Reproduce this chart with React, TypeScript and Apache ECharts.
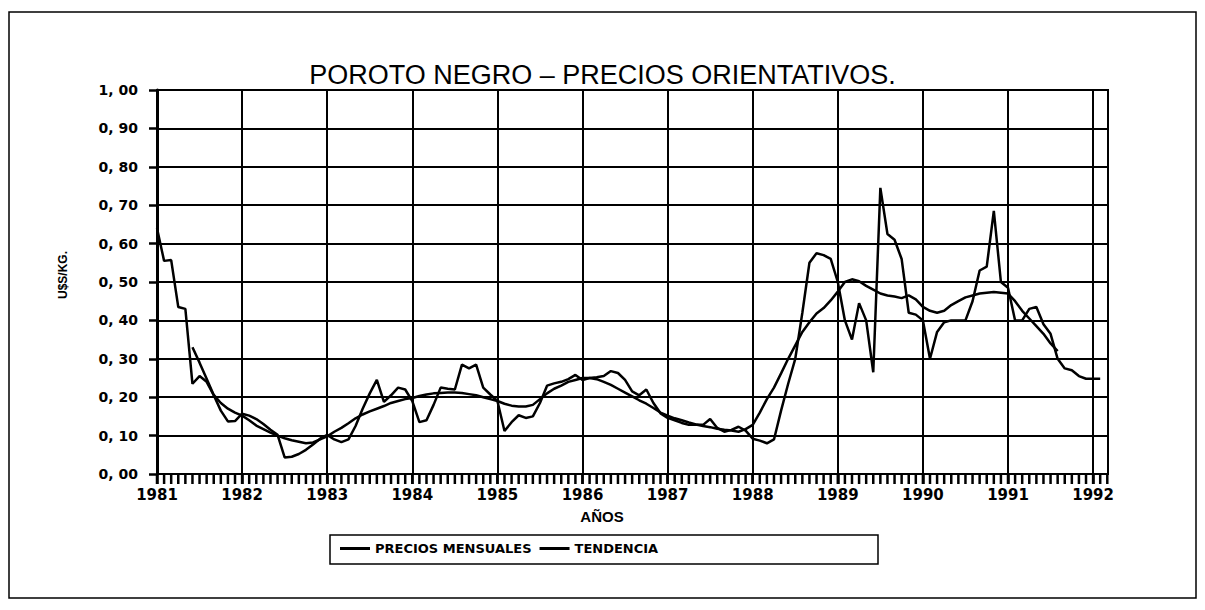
import React, { useEffect, useRef } from "react";
import * as echarts from "echarts";

// Year tick labels (one per January, month index 0, 12, 24 ...)
const anios = ["1981", "1982", "1983", "1984", "1985", "1986", "1987", "1988", "1989", "1990", "1991", "1992"];
const yTicks = [0, 0.1, 0.2, 0.3, 0.4, 0.5, 0.6, 0.7, 0.8, 0.9, 1.0];
// Monthly tick marks along the time axis (month index 0 = Jan 1981)
const marcasMes = Array.from({ length: 135 }, (_, i) => i);

// Monthly prices, US$/kg, January 1981 onward (one value per month)
const preciosMensuales = [
  // 1981
  0.64, 0.555, 0.557, 0.435, 0.43, 0.235, 0.255, 0.24, 0.205, 0.165, 0.137, 0.138,
  // 1982
  0.157, 0.152, 0.143, 0.13, 0.115, 0.102, 0.043, 0.045, 0.052, 0.063, 0.077, 0.092,
  // 1983
  0.102, 0.09, 0.083, 0.09, 0.125, 0.17, 0.21, 0.245, 0.188, 0.205, 0.225, 0.22,
  // 1984
  0.19, 0.135, 0.14, 0.18, 0.225, 0.222, 0.22, 0.285, 0.275, 0.285, 0.225, 0.207,
  // 1985
  0.19, 0.112, 0.135, 0.153, 0.146, 0.15, 0.185, 0.23, 0.236, 0.24, 0.247, 0.258,
  // 1986
  0.245, 0.25, 0.252, 0.255, 0.268, 0.263, 0.245, 0.215, 0.205, 0.22, 0.185, 0.158,
  // 1987
  0.146, 0.14, 0.133, 0.128, 0.128, 0.128, 0.143, 0.12, 0.11, 0.115, 0.123, 0.113,
  // 1988
  0.092, 0.087, 0.08, 0.09, 0.165, 0.235, 0.3, 0.42, 0.55, 0.575, 0.57, 0.56,
  // 1989
  0.5, 0.4, 0.35, 0.445, 0.4, 0.265, 0.745, 0.625, 0.61, 0.56, 0.42, 0.415,
  // 1990
  0.4, 0.3, 0.37, 0.395, 0.4, 0.4, 0.4, 0.45, 0.53, 0.54, 0.685, 0.5,
  // 1991
  0.485, 0.4, 0.4, 0.43, 0.435, 0.39, 0.365, 0.3, 0.275, 0.27, 0.255, 0.248,
  // 1992
  0.248, 0.248,
];

// Trend (moving average), starts at month index 5 (June 1981)
const tendenciaInicio = 5;
const tendencia = [
  // 1981 (Jun-Dec)
  0.33, 0.29, 0.248, 0.206, 0.185, 0.17, 0.16,
  // 1982
  0.152, 0.14, 0.126, 0.117, 0.108, 0.1, 0.093, 0.088, 0.084, 0.08, 0.082, 0.09,
  // 1983
  0.098, 0.11, 0.12, 0.132, 0.145, 0.155, 0.163, 0.17, 0.177, 0.185, 0.19, 0.195,
  // 1984
  0.198, 0.203, 0.207, 0.21, 0.211, 0.212, 0.212, 0.211, 0.208, 0.205, 0.2, 0.195,
  // 1985
  0.19, 0.183, 0.178, 0.176, 0.176, 0.18, 0.195, 0.21, 0.222, 0.23, 0.24, 0.245,
  // 1986
  0.25, 0.25, 0.247, 0.24, 0.232, 0.222, 0.212, 0.202, 0.192, 0.183, 0.172, 0.16,
  // 1987
  0.152, 0.145, 0.14, 0.134, 0.129, 0.125, 0.122, 0.118, 0.115, 0.113, 0.11, 0.117,
  // 1988
  0.128, 0.16, 0.195, 0.225, 0.262, 0.3, 0.335, 0.37, 0.395, 0.418, 0.432, 0.452,
  // 1989
  0.475, 0.5, 0.507, 0.502, 0.49, 0.48, 0.47, 0.465, 0.462, 0.458, 0.465, 0.455,
  // 1990
  0.435, 0.425, 0.42, 0.425, 0.44, 0.45, 0.46, 0.465, 0.47, 0.472, 0.474, 0.472,
  // 1991 (Jan-Aug)
  0.47, 0.45, 0.425, 0.405, 0.385, 0.365, 0.34, 0.32,
];

const X_MAX = 134.1;

export default function App() {
  const ref = useRef<HTMLDivElement>(null);

  useEffect(() => {
    if (!ref.current) return;
    const chart = echarts.init(ref.current, null, { renderer: "svg" });
    const labelFont = "DejaVu Sans";

    chart.setOption({
      animation: false,
      backgroundColor: "#ffffff",
      title: {
        text: "POROTO NEGRO – PRECIOS ORIENTATIVOS.",
        left: "center",
        top: 56,
        textStyle: { fontFamily: "Liberation Sans", fontSize: 27, fontWeight: "normal", color: "#000" },
      },
      grid: {
        left: 157,
        top: 90,
        right: 1205 - 1108,
        bottom: 610 - 474,
        show: true,
        borderColor: "#000",
        borderWidth: 2,
        backgroundColor: "transparent",
      },
      legend: {
        data: ["PRECIOS MENSUALES", "TENDENCIA"],
        left: 335,
        top: 537,
        icon: "rect",
        itemWidth: 30,
        itemHeight: 3,
        itemGap: 8,
        textStyle: { fontFamily: labelFont, fontWeight: "bold", fontSize: 13, color: "#000" },
      },
      xAxis: {
        type: "value",
        min: 0,
        max: X_MAX,
        interval: 12,
        axisLine: { show: true, onZero: false, lineStyle: { color: "#000", width: 2 } },
        axisTick: { show: true, length: 10, lineStyle: { color: "#000", width: 2.5 } },
        axisLabel: {
          margin: 13,
          fontFamily: labelFont,
          fontWeight: "bold",
          fontSize: 15,
          color: "#000",
          showMaxLabel: false,
          formatter: (v: number) => {
            const r = Math.round(v);
            return Math.abs(v - r) < 1e-6 && r % 12 === 0 ? anios[r / 12] ?? "" : "";
          },
        },
        splitLine: { show: true, lineStyle: { color: "#000", width: 2 } },
      },
      yAxis: {
        type: "value",
        min: yTicks[0],
        max: yTicks[yTicks.length - 1],
        interval: 0.1,
        axisLine: { show: true, lineStyle: { color: "#000", width: 3 } },
        axisTick: { show: true, length: 8, lineStyle: { color: "#000", width: 2.5 } },
        axisLabel: {
          margin: 19,
          fontFamily: labelFont,
          fontWeight: "bold",
          fontSize: 14,
          color: "#000",
          formatter: (v: number) => v.toFixed(2).replace(".", ", "),
        },
        splitLine: { show: true, lineStyle: { color: "#000", width: 2 } },
      },
      graphic: [
        {
          type: "rect",
          shape: { x: 9, y: 12, width: 1187, height: 586 },
          style: { fill: "none", stroke: "#000", lineWidth: 1.5 },
          silent: true,
        },
        {
          type: "rect",
          shape: { x: 330, y: 535, width: 548, height: 29 },
          style: { fill: "none", stroke: "#000", lineWidth: 1.5 },
          silent: true,
        },
        {
          type: "text",
          x: 602,
          y: 516,
          style: {
            text: "AÑOS",
            fontFamily: "Liberation Sans",
            fontWeight: "bold",
            fontSize: 15,
            fill: "#000",
            textAlign: "center",
            textVerticalAlign: "middle",
          },
        },
        {
          type: "text",
          x: 63,
          y: 275,
          rotation: Math.PI / 2,
          style: {
            text: "U$S/KG.",
            fontFamily: "Liberation Sans",
            fontWeight: "bold",
            fontSize: 12,
            fill: "#000",
            textAlign: "center",
            textVerticalAlign: "middle",
          },
        },
      ],
      series: [
        {
          name: "PRECIOS MENSUALES",
          type: "line",
          symbol: "none",
          data: preciosMensuales.map((v, i) => [i, v]),
          lineStyle: { color: "#000", width: 2.5 },
          itemStyle: { color: "#000" },
          z: 5,
        },
        {
          name: "TENDENCIA",
          type: "line",
          symbol: "none",
          data: tendencia.map((v, i) => [tendenciaInicio + i, v]),
          lineStyle: { color: "#000", width: 2.5 },
          itemStyle: { color: "#000" },
          z: 5,
        },
        {
          name: "marcas",
          type: "scatter",
          silent: true,
          clip: false,
          symbol: "rect",
          symbolSize: [2.5, 9],
          symbolOffset: [0, 5.5],
          itemStyle: { color: "#000", opacity: 1 },
          emphasis: { disabled: true },
          data: marcasMes.map((m) => [m, 0]),
          z: 6,
        },
      ],
    });

    return () => chart.dispose();
  }, []);

  return (
    <div
      ref={ref}
      style={{ position: "fixed", left: 0, top: 0, width: 1205, height: 610, background: "#fff" }}
    />
  );
}
